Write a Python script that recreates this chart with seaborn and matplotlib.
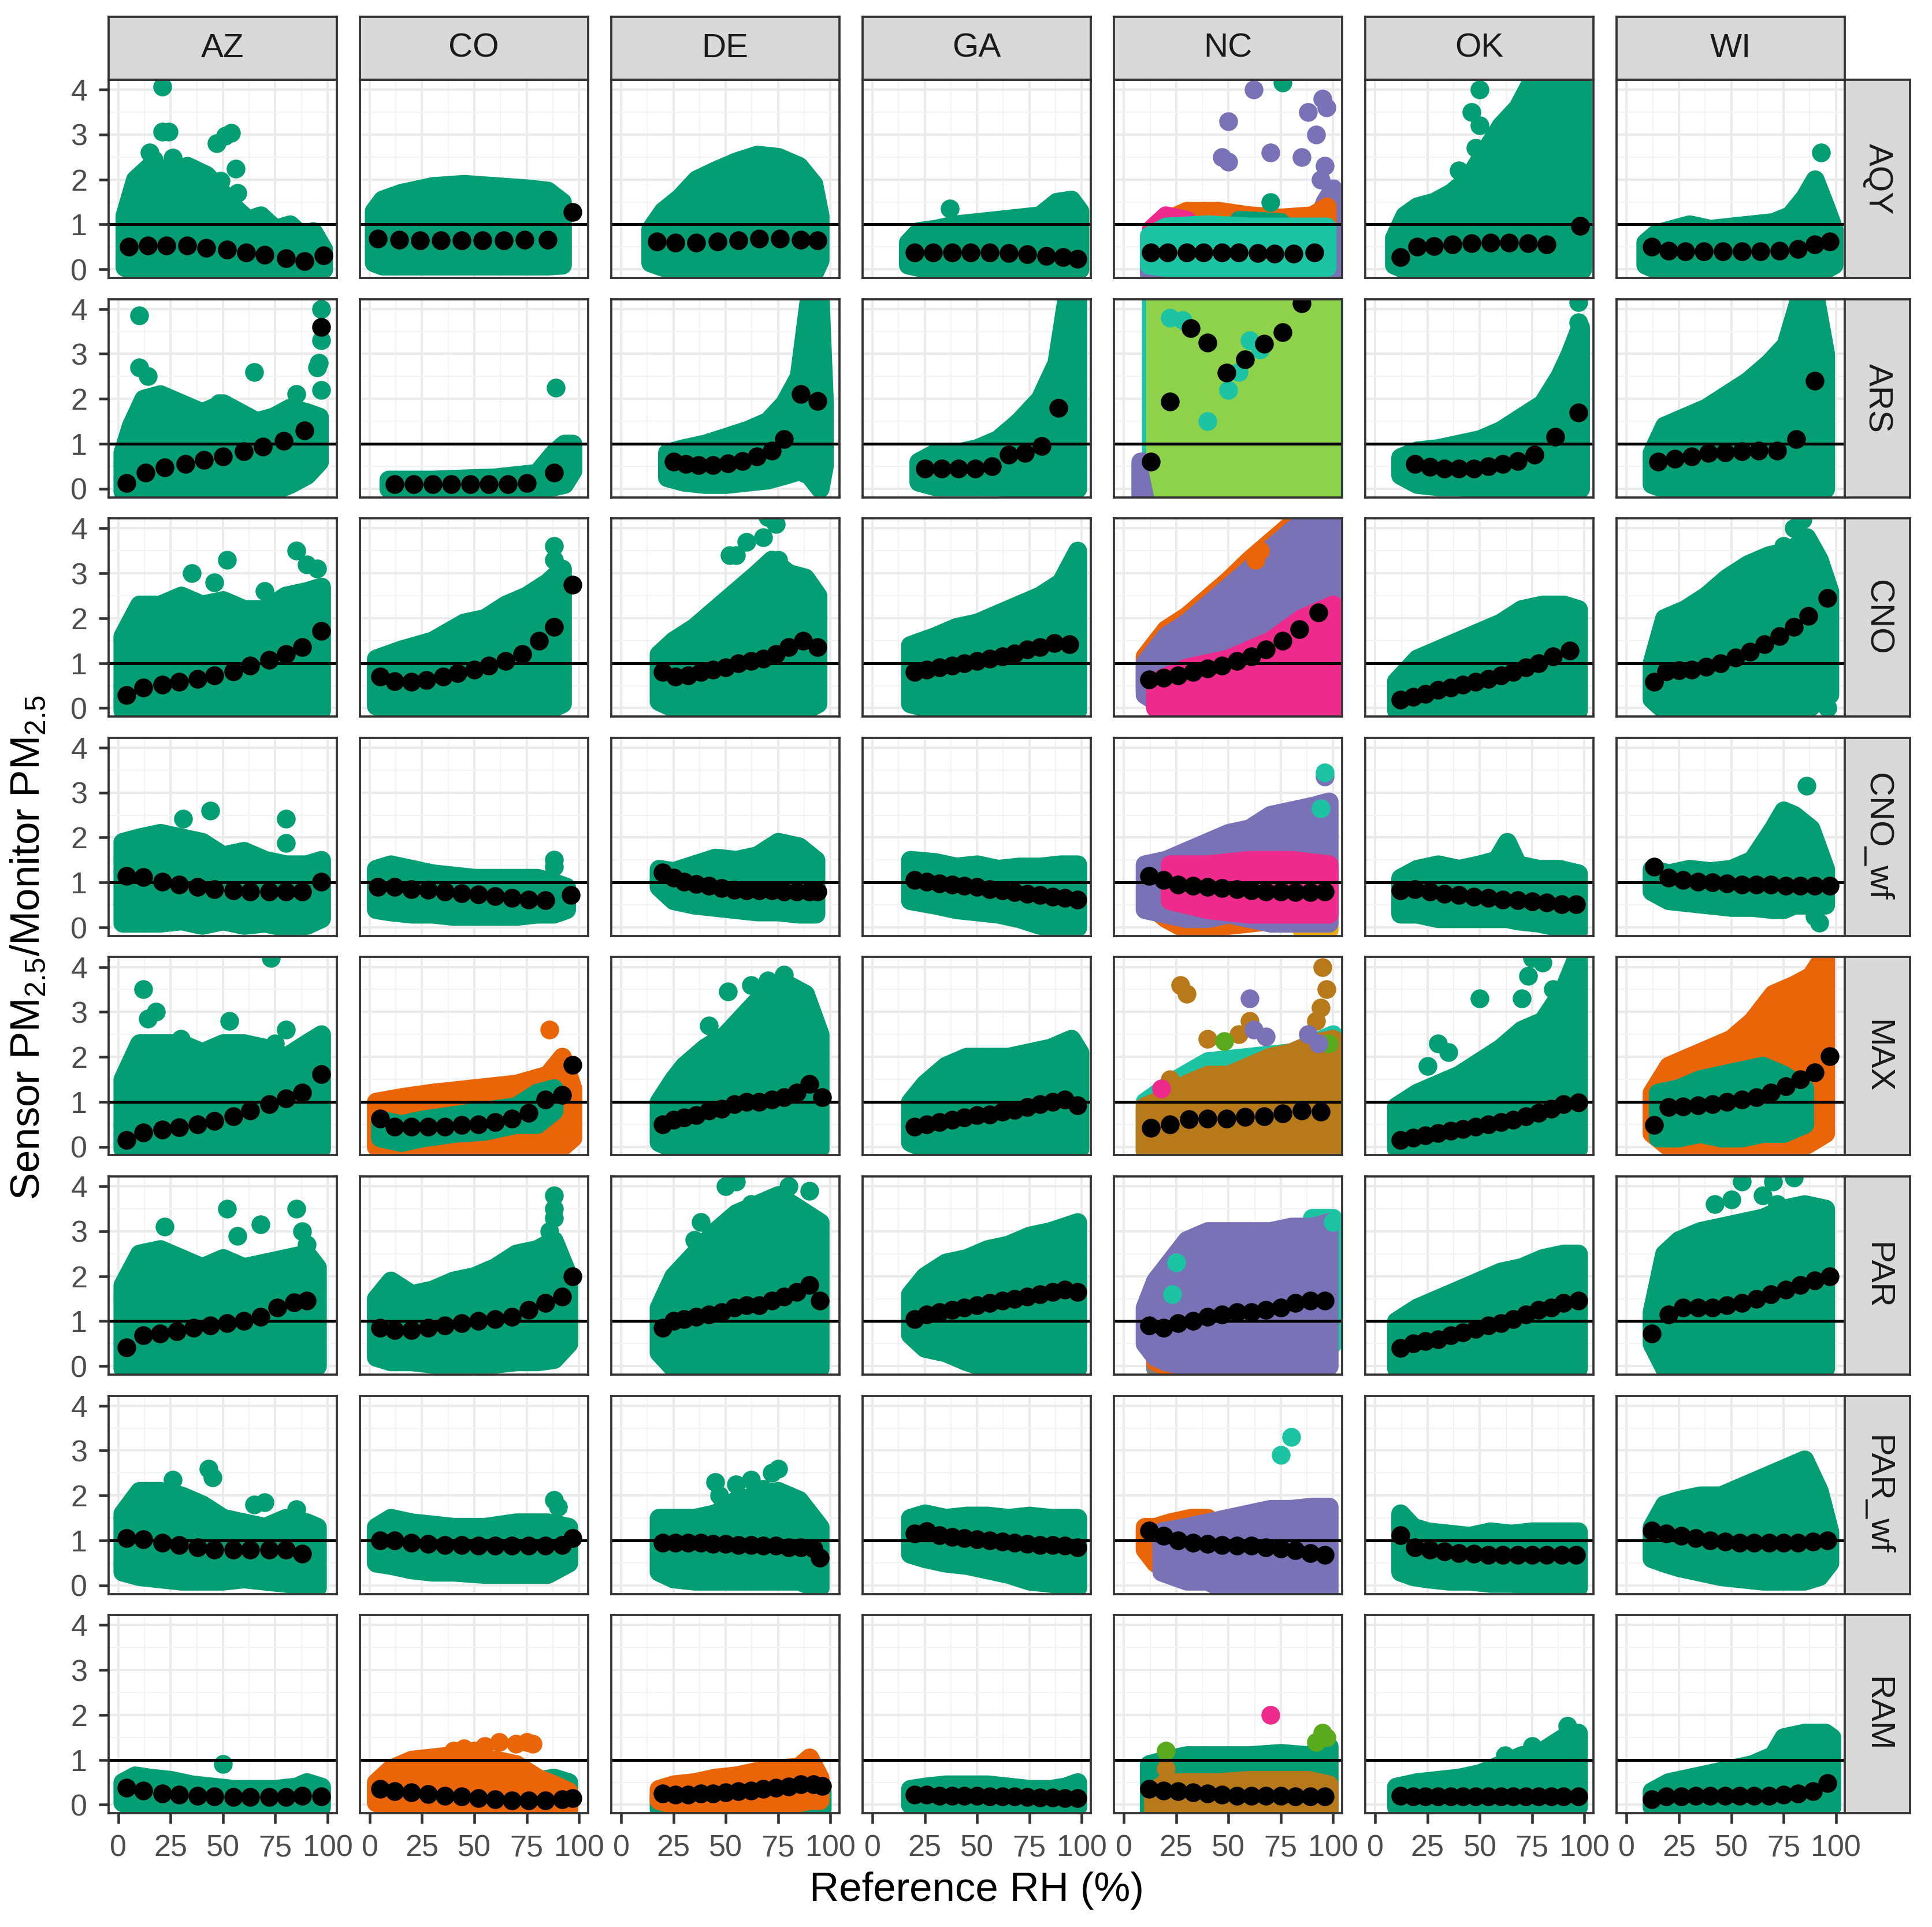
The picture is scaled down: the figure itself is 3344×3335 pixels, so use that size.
import numpy as np
import pandas as pd
import matplotlib
matplotlib.use("Agg")
import matplotlib.pyplot as plt
import seaborn as sns

# ***DATA***

STATES = ["AZ", "CO", "DE", "GA", "NC", "OK", "WI"]
SENSORS = ["AQY", "ARS", "CNO", "CNO_wf", "MAX", "PAR", "PAR_wf", "RAM"]

COLORS = {"green": "#039E74", "orange": "#EA6508", "purple": "#7A72B6", "pink": "#EE2A8C",
          "lime": "#8DD24A", "brown": "#B8791A", "teal": "#1CC4A4", "gold": "#E6AB02",
          "grey": "#7F7F7F", "olive": "#5AAA1E"}

# binned means (black points): RH bin position and mean ratio
AQY_RH = {"AZ": [5, 14, 23, 33, 42, 52, 61, 70, 80, 89, 98],
          "CO": [4, 14, 24, 34, 44, 54, 64, 74, 85, 97],
          "DE": [17, 26, 36, 46, 56, 66, 76, 86, 94],
          "GA": [20, 29, 38, 47, 56, 65, 74, 83, 91, 98],
          "NC": [13, 21, 30, 38, 47, 55, 64, 72, 81, 91],
          "OK": [12, 20, 28, 37, 46, 55, 64, 73, 82, 98],
          "WI": [12, 20, 28, 37, 46, 55, 64, 73, 82, 90, 97]}
AQY_MEAN = {"AZ": [0.51, 0.53, 0.53, 0.53, 0.48, 0.44, 0.38, 0.33, 0.25, 0.18, 0.31],
            "CO": [0.68, 0.66, 0.65, 0.65, 0.65, 0.65, 0.65, 0.66, 0.66, 1.28],
            "DE": [0.62, 0.6, 0.6, 0.62, 0.65, 0.68, 0.68, 0.66, 0.65],
            "GA": [0.37, 0.37, 0.37, 0.37, 0.37, 0.36, 0.34, 0.3, 0.27, 0.24],
            "NC": [0.38, 0.38, 0.38, 0.38, 0.38, 0.37, 0.36, 0.35, 0.35, 0.38],
            "OK": [0.27, 0.5, 0.52, 0.55, 0.58, 0.6, 0.6, 0.58, 0.55, 0.97],
            "WI": [0.5, 0.42, 0.4, 0.4, 0.4, 0.4, 0.4, 0.42, 0.45, 0.55, 0.62]}
# green point cloud outline: (RH, low, high)
AQY_CLOUD = {"AZ": [(3, 0.05, 1.2), (8, -0.05, 2.0), (15, -0.05, 2.3), (25, -0.05, 2.2), (33, -0.05, 2.3),
                    (42, -0.05, 2.1), (48, -0.05, 1.8), (55, -0.05, 1.4), (62, -0.05, 1.1), (68, -0.05, 1.2),
                    (75, -0.05, 0.9), (82, -0.05, 1.0), (88, -0.05, 0.75), (93, -0.05, 0.85), (98, 0.0, 0.45)],
             "CO": [(2, 0.15, 1.3), (6, 0.08, 1.55), (15, 0.08, 1.7), (30, 0.08, 1.85), (45, 0.08, 1.9),
                    (60, 0.08, 1.85), (75, 0.08, 1.8), (85, 0.08, 1.75), (92, 0.1, 1.5)],
             "DE": [(14, 0.15, 0.9), (20, 0.05, 1.3), (28, 0.0, 1.6), (36, 0.0, 2.0), (45, 0.0, 2.2), (55, 0.0, 2.4),
                    (65, 0.0, 2.55), (75, 0.0, 2.5), (85, 0.0, 2.3), (92, -0.1, 1.9), (95, 0.2, 1.2)],
             "GA": [(17, 0.1, 0.6), (22, 0.05, 0.85), (30, 0.0, 0.9), (40, 0.0, 1.0), (50, 0.0, 1.05), (60, 0.0, 1.1),
                    (70, 0.0, 1.15), (80, 0.0, 1.2), (88, 0.0, 1.5), (95, 0.0, 1.55), (99, 0.0, 1.3)],
             "NC": None,
             "OK": [(9, 0.1, 0.7), (14, 0.0, 1.2), (20, 0.0, 1.4), (28, 0.0, 1.5), (36, 0.0, 1.7), (44, 0.0, 2.0),
                    (52, 0.0, 2.6), (60, 0.0, 3.2), (68, 0.0, 3.6), (76, 0.0, 4.3), (90, 0.0, 4.3), (99, 0.0, 4.3)],
             "WI": [(9, 0.1, 0.6), (14, 0.0, 0.8), (22, 0.0, 0.9), (30, 0.0, 1.0), (40, 0.0, 0.9), (50, 0.0, 0.95),
                    (60, 0.0, 1.0), (70, 0.0, 1.05), (78, 0.0, 1.2), (85, 0.0, 1.6), (90, 0.0, 2.0), (95, 0.0, 1.4),
                    (99, 0.1, 0.9)]}

ARS_RH = {"AZ": [4, 13, 22, 32, 41, 50, 60, 69, 79, 89, 97],
          "CO": [12, 21, 30, 39, 48, 57, 66, 75, 88],
          "DE": [25, 31, 37, 44, 51, 58, 65, 72, 78, 86, 94],
          "GA": [25, 33, 41, 49, 57, 65, 73, 81, 89],
          "NC": [13, 22, 32, 40, 49, 58, 67, 76, 85],
          "OK": [19, 26, 33, 40, 47, 54, 61, 68, 76, 86, 97],
          "WI": [15, 23, 31, 39, 47, 55, 63, 72, 81, 90]}
ARS_MEAN = {"AZ": [0.13, 0.36, 0.47, 0.55, 0.64, 0.72, 0.83, 0.94, 1.06, 1.3, 3.6],
            "CO": [0.1, 0.1, 0.1, 0.1, 0.1, 0.1, 0.1, 0.12, 0.36],
            "DE": [0.6, 0.55, 0.52, 0.52, 0.56, 0.62, 0.72, 0.85, 1.1, 2.1, 1.95],
            "GA": [0.45, 0.45, 0.45, 0.45, 0.5, 0.75, 0.8, 0.95, 1.8],
            "NC": [0.6, 1.94, 3.57, 3.25, 2.58, 2.88, 3.23, 3.48, 4.12],
            "OK": [0.55, 0.48, 0.45, 0.45, 0.45, 0.5, 0.55, 0.62, 0.75, 1.15, 1.7],
            "WI": [0.6, 0.66, 0.72, 0.79, 0.81, 0.83, 0.85, 0.85, 1.1, 2.4]}
ARS_CLOUD = {"AZ": [(2, -0.05, 0.8), (6, -0.05, 1.4), (12, -0.05, 2.0), (20, -0.05, 2.1), (30, -0.05, 1.9),
                    (40, -0.05, 1.7), (50, -0.05, 1.9), (58, -0.05, 1.7), (66, -0.05, 1.5), (74, -0.05, 1.6),
                    (82, 0.1, 1.8), (90, 0.3, 1.7), (96, 0.6, 1.6)],
             "CO": [(9, 0.0, 0.2), (30, 0.0, 0.2), (60, 0.0, 0.25), (80, 0.0, 0.35), (88, 0.05, 0.8),
                    (93, 0.1, 1.0), (97, 0.4, 1.0)],
             "DE": [(22, 0.25, 0.8), (30, 0.15, 0.9), (40, 0.1, 1.0), (50, 0.1, 1.15), (60, 0.15, 1.3), (70, 0.2, 1.5),
                    (78, 0.3, 1.9), (85, 0.4, 2.5), (90, 0.3, 4.3), (95, 0.0, 4.3), (97, 0.5, 2.0)],
             "GA": [(22, 0.15, 0.6), (30, 0.05, 0.8), (40, 0.05, 0.8), (50, 0.05, 0.9), (60, 0.05, 1.1), (70, 0.0, 1.5),
                    (80, 0.0, 2.0), (88, 0.0, 2.8), (93, 0.0, 4.3), (98, 0.0, 4.3)],
             "NC": None,
             "OK": [(12, 0.3, 0.7), (20, 0.1, 0.85), (30, 0.05, 0.9), (40, 0.05, 1.0), (50, 0.0, 1.1), (60, 0.0, 1.3),
                    (70, 0.0, 1.6), (80, 0.0, 1.9), (88, 0.0, 2.5), (93, 0.0, 3.0), (98, 0.0, 3.6)],
             "WI": [(12, 0.1, 0.8), (18, 0.0, 1.4), (28, 0.0, 1.6), (38, 0.0, 1.8), (48, 0.0, 2.1), (58, 0.0, 2.4),
                    (68, 0.0, 2.8), (76, 0.0, 3.2), (83, 0.0, 4.3), (90, 0.0, 4.3), (95, 0.0, 3.0)]}

CNO_RH = {"AZ": [4, 12, 21, 29, 38, 46, 55, 63, 72, 80, 88, 97],
          "CO": [5, 12, 20, 27, 35, 42, 50, 57, 65, 73, 81, 88, 97],
          "DE": [20, 26, 32, 38, 44, 50, 56, 62, 68, 74, 80, 87, 94],
          "GA": [20, 26, 32, 38, 44, 50, 56, 62, 68, 74, 80, 87, 94],
          "NC": [12, 19, 26, 33, 40, 47, 54, 61, 68, 76, 84, 93],
          "OK": [12, 18, 24, 30, 36, 42, 48, 54, 60, 66, 72, 78, 85, 93],
          "WI": [13, 19, 25, 31, 38, 45, 52, 59, 66, 73, 80, 87, 96]}
CNO_MEAN = {"AZ": [0.29, 0.45, 0.52, 0.58, 0.65, 0.72, 0.82, 0.95, 1.07, 1.2, 1.35, 1.72],
            "CO": [0.7, 0.6, 0.58, 0.62, 0.7, 0.78, 0.86, 0.95, 1.05, 1.2, 1.5, 1.8, 2.75],
            "DE": [0.8, 0.7, 0.72, 0.8, 0.85, 0.9, 1.0, 1.05, 1.1, 1.2, 1.35, 1.5, 1.35],
            "GA": [0.8, 0.85, 0.9, 0.95, 1.0, 1.05, 1.1, 1.15, 1.22, 1.3, 1.35, 1.45, 1.42],
            "NC": [0.63, 0.68, 0.72, 0.8, 0.88, 0.95, 1.05, 1.15, 1.3, 1.5, 1.75, 2.13],
            "OK": [0.18, 0.25, 0.32, 0.4, 0.46, 0.52, 0.58, 0.65, 0.72, 0.8, 0.9, 1.0, 1.15, 1.28],
            "WI": [0.58, 0.82, 0.84, 0.86, 0.92, 1.0, 1.12, 1.25, 1.42, 1.6, 1.8, 2.05, 2.45]}
CNO_CLOUD = {"AZ": [(2, -0.05, 1.6), (10, -0.05, 2.3), (20, -0.05, 2.3), (30, -0.05, 2.5), (40, -0.05, 2.3),
                    (50, -0.05, 2.4), (60, -0.05, 2.2), (70, -0.05, 2.2), (80, -0.05, 2.5), (90, -0.05, 2.6),
                    (97, -0.05, 2.7)],
             "CO": [(3, 0.05, 1.1), (15, -0.05, 1.3), (30, -0.05, 1.5), (45, -0.05, 1.9), (55, -0.05, 2.0),
                    (65, -0.05, 2.3), (75, -0.05, 2.5), (85, -0.05, 2.8), (92, 0.1, 3.1)],
             "DE": [(18, 0.15, 1.2), (25, 0.0, 1.5), (35, -0.05, 1.8), (45, -0.05, 2.2), (55, -0.05, 2.6),
                    (65, -0.05, 3.0), (72, -0.05, 3.3), (80, -0.05, 3.0), (88, -0.05, 2.9), (94, 0.1, 2.5)],
             "GA": [(18, 0.1, 1.4), (30, -0.05, 1.6), (40, -0.05, 1.8), (50, -0.05, 1.9), (60, -0.05, 2.1),
                    (70, -0.05, 2.3), (80, -0.05, 2.5), (90, -0.05, 2.8), (98, -0.05, 3.5)],
             "NC": None,
             "OK": [(10, -0.05, 0.6), (20, -0.05, 1.1), (30, -0.05, 1.3), (40, -0.05, 1.5), (50, -0.05, 1.7),
                    (60, -0.05, 1.9), (70, -0.05, 2.2), (80, -0.05, 2.3), (90, -0.05, 2.3), (97, -0.05, 2.2)],
             "WI": [(12, 0.2, 1.0), (18, -0.05, 2.0), (28, -0.05, 2.2), (38, -0.05, 2.5), (48, -0.05, 2.9),
                    (58, -0.05, 3.2), (68, -0.05, 3.4), (78, -0.05, 3.5), (86, -0.05, 3.8), (92, 0.2, 3.3),
                    (97, 0.3, 2.6)]}

CNOWF_RH = {"AZ": [4, 12, 21, 29, 38, 46, 55, 63, 72, 80, 88, 97],
            "CO": [4, 12, 20, 28, 36, 44, 52, 60, 68, 76, 84, 96],
            "DE": [20, 25, 30, 36, 42, 48, 54, 60, 66, 72, 78, 84, 90, 94],
            "GA": [20, 26, 32, 38, 44, 50, 56, 62, 68, 74, 80, 86, 92, 98],
            "NC": [12, 19, 26, 33, 40, 47, 54, 61, 68, 75, 82, 89, 96],
            "OK": [12, 19, 26, 33, 40, 47, 54, 61, 68, 75, 82, 89, 96],
            "WI": [13, 20, 27, 34, 41, 48, 55, 62, 69, 76, 83, 90, 97]}
CNOWF_MEAN = {"AZ": [1.15, 1.12, 1.02, 0.95, 0.9, 0.85, 0.82, 0.8, 0.8, 0.8, 0.8, 1.02],
              "CO": [0.9, 0.9, 0.85, 0.83, 0.8, 0.76, 0.73, 0.7, 0.66, 0.62, 0.6, 0.72],
              "DE": [1.22, 1.1, 1.02, 0.96, 0.92, 0.87, 0.84, 0.82, 0.82, 0.82, 0.8, 0.8, 0.8, 0.8],
              "GA": [1.05, 1.02, 0.98, 0.95, 0.92, 0.9, 0.85, 0.82, 0.78, 0.75, 0.72, 0.68, 0.65, 0.62],
              "NC": [1.15, 1.05, 0.95, 0.92, 0.9, 0.88, 0.85, 0.82, 0.8, 0.8, 0.78, 0.78, 0.8],
              "OK": [0.82, 0.85, 0.8, 0.75, 0.72, 0.68, 0.65, 0.62, 0.6, 0.58, 0.55, 0.52, 0.52],
              "WI": [1.35, 1.1, 1.05, 1.02, 1.0, 0.98, 0.95, 0.95, 0.95, 0.92, 0.92, 0.92, 0.92]}
CNOWF_CLOUD = {"AZ": [(2, 0.1, 1.9), (10, 0.1, 2.0), (20, 0.1, 2.1), (30, 0.15, 2.0), (40, 0.05, 1.9), (50, 0.15, 1.6),
                      (60, 0.05, 1.7), (70, 0.1, 1.5), (80, 0.0, 1.4), (90, 0.05, 1.4), (97, 0.2, 1.5)],
               "CO": [(3, 0.4, 1.3), (10, 0.35, 1.4), (20, 0.3, 1.3), (30, 0.3, 1.2), (40, 0.25, 1.15), (50, 0.25, 1.1),
                      (60, 0.25, 1.1), (70, 0.25, 1.1), (80, 0.3, 1.1), (88, 0.3, 1.0), (94, 0.4, 0.9)],
               "DE": [(18, 0.9, 1.3), (25, 0.6, 1.25), (35, 0.5, 1.4), (45, 0.45, 1.55), (55, 0.4, 1.5),
                      (65, 0.35, 1.6), (75, 0.35, 1.9), (85, 0.3, 1.8), (93, 0.3, 1.5)],
               "GA": [(18, 0.6, 1.5), (30, 0.5, 1.45), (40, 0.4, 1.35), (50, 0.35, 1.4), (60, 0.3, 1.3),
                      (70, 0.2, 1.35), (80, 0.05, 1.35), (90, 0.0, 1.4), (98, 0.0, 1.4)],
               "NC": None,
               "OK": [(12, 0.3, 1.1), (20, 0.3, 1.3), (30, 0.2, 1.4), (40, 0.2, 1.3), (50, 0.2, 1.4), (58, 0.2, 1.5),
                      (63, 0.2, 1.9), (68, 0.15, 1.4), (78, 0.1, 1.3), (88, 0.0, 1.3), (97, -0.1, 1.2)],
               "WI": [(12, 0.8, 1.3), (20, 0.6, 1.2), (30, 0.55, 1.3), (40, 0.5, 1.25), (50, 0.45, 1.3),
                      (60, 0.45, 1.5), (70, 0.4, 2.2), (75, 0.4, 2.6), (80, 0.5, 2.5), (88, 0.5, 2.2), (95, 0.5, 1.3)]}

MAX_RH = {"AZ": [4, 12, 21, 29, 38, 46, 55, 63, 72, 80, 88, 97],
          "CO": [5, 12, 20, 28, 36, 44, 52, 60, 68, 76, 84, 92, 97],
          "DE": [20, 25, 30, 36, 42, 48, 54, 60, 66, 72, 78, 84, 90, 96],
          "GA": [20, 26, 32, 38, 44, 50, 56, 62, 68, 74, 80, 86, 92, 98],
          "NC": [13, 22, 31, 40, 49, 58, 67, 76, 85, 94],
          "OK": [12, 18, 24, 30, 36, 42, 48, 54, 60, 66, 72, 78, 84, 90, 97],
          "WI": [13, 20, 27, 34, 41, 48, 55, 62, 69, 76, 83, 90, 97]}
MAX_MEAN = {"AZ": [0.15, 0.32, 0.38, 0.43, 0.5, 0.58, 0.68, 0.8, 0.95, 1.08, 1.2, 1.62],
            "CO": [0.62, 0.45, 0.45, 0.45, 0.45, 0.48, 0.5, 0.55, 0.62, 0.75, 1.05, 1.15, 1.82],
            "DE": [0.5, 0.6, 0.65, 0.7, 0.8, 0.85, 0.95, 1.0, 1.0, 1.05, 1.1, 1.2, 1.4, 1.1],
            "GA": [0.45, 0.5, 0.55, 0.6, 0.65, 0.7, 0.72, 0.78, 0.82, 0.88, 0.95, 1.0, 1.05, 0.92],
            "NC": [0.42, 0.5, 0.61, 0.63, 0.63, 0.67, 0.68, 0.74, 0.8, 0.78],
            "OK": [0.15, 0.2, 0.25, 0.3, 0.35, 0.4, 0.45, 0.5, 0.55, 0.6, 0.68, 0.75, 0.85, 0.95, 0.98],
            "WI": [0.48, 0.88, 0.9, 0.92, 0.95, 1.0, 1.05, 1.1, 1.2, 1.35, 1.5, 1.65, 2.02]}
MAX_CLOUD = {"AZ": [(2, -0.05, 1.5), (10, -0.05, 2.3), (20, -0.05, 2.3), (30, -0.05, 2.3), (40, -0.05, 2.1),
                    (50, -0.05, 2.3), (60, -0.05, 2.3), (70, -0.05, 2.2), (80, -0.05, 2.0), (90, -0.05, 2.3),
                    (97, -0.05, 2.5)],
             "CO": [(5, 0.2, 0.6), (15, 0.1, 0.5), (25, 0.2, 0.6), (40, 0.3, 0.7), (55, 0.35, 0.8), (70, 0.5, 0.9),
                    (80, 0.5, 1.2), (88, 0.8, 1.3)],
             "DE": [(18, 0.1, 1.0), (25, -0.05, 1.5), (30, -0.05, 1.8), (40, -0.05, 2.2), (50, -0.05, 2.5),
                    (60, -0.05, 3.0), (70, -0.05, 3.5), (80, -0.05, 3.6), (88, -0.05, 3.4), (95, -0.05, 2.5)],
             "GA": [(18, 0.1, 1.0), (25, -0.05, 1.4), (35, -0.05, 1.8), (45, -0.05, 2.0), (55, -0.05, 2.0),
                    (65, -0.05, 2.0), (75, -0.05, 2.1), (85, -0.05, 2.2), (95, -0.05, 2.4), (99, -0.05, 2.1)],
             "NC": None,
             "OK": [(10, -0.05, 0.9), (20, -0.05, 1.2), (30, -0.05, 1.4), (40, -0.05, 1.6), (50, -0.05, 1.9),
                    (60, -0.05, 2.2), (70, -0.05, 2.6), (80, -0.05, 2.8), (90, -0.05, 3.5), (97, -0.05, 4.3)],
             "WI": [(15, 0.2, 1.2), (25, 0.2, 1.3), (35, 0.3, 1.5), (45, 0.2, 1.6), (55, 0.2, 1.7), (65, 0.3, 1.8),
                    (75, 0.3, 1.6), (85, 0.5, 1.3)]}

PAR_RH = {"AZ": [4, 12, 20, 28, 36, 44, 52, 60, 68, 76, 84, 90],
          "CO": [5, 12, 20, 28, 36, 44, 52, 60, 68, 76, 84, 92, 97],
          "DE": [20, 25, 30, 36, 42, 48, 54, 60, 66, 72, 78, 84, 90, 95],
          "GA": [20, 26, 32, 38, 44, 50, 56, 62, 68, 74, 80, 86, 92, 98],
          "NC": [12, 19, 26, 33, 40, 47, 54, 61, 68, 75, 82, 89, 96],
          "OK": [12, 18, 24, 30, 36, 42, 48, 54, 60, 66, 72, 78, 84, 90, 97],
          "WI": [12, 20, 27, 34, 41, 48, 55, 62, 69, 76, 83, 90, 97]}
PAR_MEAN = {"AZ": [0.42, 0.68, 0.72, 0.78, 0.85, 0.9, 0.95, 1.0, 1.1, 1.3, 1.42, 1.45],
            "CO": [0.85, 0.8, 0.8, 0.85, 0.9, 0.95, 1.0, 1.05, 1.1, 1.25, 1.4, 1.55, 2.0],
            "DE": [0.85, 1.0, 1.05, 1.1, 1.15, 1.2, 1.3, 1.35, 1.35, 1.45, 1.55, 1.65, 1.8, 1.45],
            "GA": [1.05, 1.15, 1.2, 1.25, 1.3, 1.35, 1.4, 1.45, 1.5, 1.55, 1.6, 1.65, 1.7, 1.65],
            "NC": [0.9, 0.85, 0.95, 1.0, 1.1, 1.15, 1.2, 1.2, 1.25, 1.3, 1.4, 1.45, 1.45],
            "OK": [0.4, 0.5, 0.55, 0.6, 0.68, 0.75, 0.82, 0.9, 0.95, 1.05, 1.15, 1.25, 1.3, 1.4, 1.45],
            "WI": [0.72, 1.15, 1.3, 1.3, 1.3, 1.35, 1.4, 1.5, 1.6, 1.7, 1.8, 1.9, 2.0]}
PAR_CLOUD = {"AZ": [(2, -0.05, 1.8), (10, -0.05, 2.5), (20, -0.05, 2.6), (30, -0.05, 2.4), (40, -0.05, 2.2),
                    (50, -0.05, 2.4), (60, -0.05, 2.2), (70, -0.05, 2.3), (80, -0.05, 2.4), (90, -0.05, 2.5),
                    (95, 0.0, 2.2)],
             "CO": [(3, 0.2, 1.5), (10, 0.1, 1.9), (20, 0.1, 1.6), (30, 0.05, 1.7), (40, 0.05, 1.9), (50, 0.05, 2.0),
                    (60, 0.05, 2.2), (70, 0.1, 2.5), (80, 0.1, 2.6), (88, 0.15, 2.8), (95, 0.5, 2.0)],
             "DE": [(18, 0.3, 1.3), (25, -0.05, 2.0), (35, -0.05, 2.5), (45, -0.05, 3.0), (55, -0.05, 3.4),
                    (65, -0.05, 3.6), (75, -0.05, 3.8), (85, -0.05, 3.5), (95, -0.05, 3.2)],
             "GA": [(18, 0.7, 1.6), (25, 0.4, 2.0), (35, 0.3, 2.3), (45, 0.1, 2.4), (55, -0.05, 2.6), (65, -0.05, 2.7),
                    (75, -0.05, 2.9), (85, -0.05, 3.0), (98, -0.05, 3.2)],
             "NC": None,
             "OK": [(10, -0.05, 1.0), (20, -0.05, 1.3), (30, -0.05, 1.5), (40, -0.05, 1.7), (50, -0.05, 1.9),
                    (60, -0.05, 2.1), (70, -0.05, 2.2), (80, -0.05, 2.4), (90, -0.05, 2.5), (97, -0.05, 2.5)],
             "WI": [(12, 0.5, 1.2), (18, -0.05, 2.5), (25, -0.05, 2.8), (35, -0.05, 3.0), (45, -0.05, 3.1),
                    (55, -0.05, 3.2), (65, -0.05, 3.3), (75, -0.05, 3.5), (85, -0.05, 3.6), (95, -0.05, 3.5)]}

PARWF_RH = {"AZ": [4, 12, 21, 29, 38, 46, 55, 63, 72, 80, 88],
            "CO": [5, 12, 20, 28, 36, 44, 52, 60, 68, 76, 84, 92, 97],
            "DE": [20, 26, 32, 38, 44, 50, 56, 62, 68, 74, 80, 86, 92, 95],
            "GA": [20, 26, 32, 38, 44, 50, 56, 62, 68, 74, 80, 86, 92, 98],
            "NC": [12, 19, 26, 33, 40, 47, 54, 61, 68, 75, 82, 89, 96],
            "OK": [12, 19, 26, 33, 40, 47, 54, 61, 68, 75, 82, 89, 96],
            "WI": [12, 19, 26, 33, 40, 47, 54, 61, 68, 75, 82, 89, 96]}
PARWF_MEAN = {"AZ": [1.05, 1.02, 0.95, 0.9, 0.85, 0.8, 0.8, 0.8, 0.8, 0.8, 0.7],
              "CO": [1.0, 1.0, 0.95, 0.92, 0.9, 0.9, 0.88, 0.88, 0.88, 0.88, 0.88, 0.9, 1.05],
              "DE": [0.95, 0.95, 0.95, 0.95, 0.92, 0.92, 0.9, 0.9, 0.88, 0.88, 0.85, 0.85, 0.82, 0.62],
              "GA": [1.15, 1.2, 1.12, 1.08, 1.05, 1.02, 1.0, 0.98, 0.95, 0.92, 0.9, 0.9, 0.88, 0.85],
              "NC": [1.22, 1.1, 1.0, 0.95, 0.92, 0.9, 0.88, 0.88, 0.85, 0.82, 0.78, 0.72, 0.68],
              "OK": [1.12, 0.85, 0.8, 0.75, 0.72, 0.7, 0.68, 0.68, 0.68, 0.68, 0.68, 0.68, 0.68],
              "WI": [1.22, 1.15, 1.1, 1.05, 1.0, 0.98, 0.95, 0.95, 0.95, 0.95, 0.95, 0.98, 1.0]}
PARWF_CLOUD = {"AZ": [(2, 0.3, 1.6), (10, 0.2, 2.1), (20, 0.15, 2.1), (30, 0.1, 2.0), (40, 0.1, 1.8), (50, 0.1, 1.5),
                      (60, 0.15, 1.4), (70, 0.1, 1.3), (80, 0.05, 1.5), (90, 0.0, 1.4), (95, -0.05, 1.3)],
               "CO": [(3, 0.5, 1.3), (10, 0.45, 1.5), (20, 0.35, 1.4), (30, 0.3, 1.35), (40, 0.3, 1.3),
                      (55, 0.25, 1.3), (70, 0.25, 1.4), (85, 0.25, 1.4), (95, 0.5, 1.3)],
               "DE": [(18, 0.3, 1.5), (25, 0.15, 1.5), (35, 0.1, 1.5), (45, 0.1, 1.6), (55, 0.1, 1.9), (65, 0.1, 2.0),
                      (75, 0.1, 2.1), (85, 0.1, 1.9), (90, 0.0, 1.6), (95, -0.05, 1.3)],
               "GA": [(18, 0.7, 1.5), (25, 0.6, 1.6), (35, 0.5, 1.5), (45, 0.45, 1.55), (55, 0.35, 1.55),
                      (65, 0.25, 1.5), (75, 0.1, 1.55), (85, 0.05, 1.5), (92, 0.0, 1.5), (98, -0.05, 1.5)],
               "NC": None,
               "OK": [(12, 0.3, 1.6), (18, 0.2, 1.3), (25, 0.15, 1.2), (35, 0.1, 1.15), (45, 0.1, 1.1),
                      (55, 0.05, 1.2), (65, 0.05, 1.15), (75, 0.0, 1.2), (85, -0.05, 1.2), (97, -0.05, 1.2)],
               "WI": [(12, 0.6, 1.3), (18, 0.5, 1.8), (25, 0.4, 1.9), (35, 0.3, 2.0), (45, 0.2, 2.0), (55, 0.15, 2.2),
                      (65, 0.1, 2.4), (75, 0.1, 2.6), (85, 0.1, 2.8), (92, 0.2, 2.1), (97, 0.5, 1.2)]}

RAM_RH = {"AZ": [4, 12, 21, 29, 38, 46, 55, 63, 72, 80, 88, 97],
          "CO": [5, 12, 20, 28, 36, 44, 52, 60, 68, 76, 84, 92, 97],
          "DE": [20, 26, 32, 38, 44, 50, 56, 62, 68, 74, 80, 86, 92, 96],
          "GA": [20, 26, 32, 38, 44, 50, 56, 62, 68, 74, 80, 86, 92, 98],
          "NC": [12, 19, 26, 33, 40, 47, 54, 61, 68, 75, 82, 89, 96],
          "OK": [12, 18, 24, 30, 36, 42, 48, 54, 60, 66, 72, 78, 84, 90, 97],
          "WI": [12, 19, 26, 33, 40, 47, 54, 61, 68, 75, 82, 89, 96]}
RAM_MEAN = {"AZ": [0.38, 0.32, 0.25, 0.22, 0.2, 0.18, 0.17, 0.17, 0.17, 0.17, 0.2, 0.18],
            "CO": [0.35, 0.3, 0.27, 0.24, 0.2, 0.18, 0.15, 0.12, 0.1, 0.1, 0.1, 0.12, 0.15],
            "DE": [0.25, 0.22, 0.22, 0.25, 0.25, 0.28, 0.3, 0.32, 0.35, 0.38, 0.4, 0.45, 0.45, 0.42],
            "GA": [0.22, 0.22, 0.2, 0.2, 0.2, 0.2, 0.18, 0.18, 0.18, 0.17, 0.16, 0.16, 0.15, 0.15],
            "NC": [0.35, 0.32, 0.3, 0.28, 0.25, 0.22, 0.2, 0.2, 0.2, 0.2, 0.18, 0.18, 0.18],
            "OK": [0.2, 0.18, 0.18, 0.18, 0.18, 0.18, 0.18, 0.18, 0.18, 0.18, 0.18, 0.18, 0.18, 0.18, 0.18],
            "WI": [0.12, 0.18, 0.18, 0.2, 0.2, 0.2, 0.2, 0.2, 0.2, 0.22, 0.25, 0.3, 0.48]}
RAM_CLOUD = {"AZ": [(2, 0.05, 0.5), (8, -0.05, 0.65), (15, -0.05, 0.6), (25, -0.05, 0.55), (35, -0.05, 0.45),
                    (45, -0.05, 0.4), (55, -0.05, 0.35), (65, -0.05, 0.35), (75, -0.05, 0.35), (85, -0.05, 0.4),
                    (90, -0.05, 0.5), (97, -0.05, 0.4)],
             "CO": [(3, 0.1, 0.45), (50, -0.1, 0.3), (88, -0.1, 0.6), (95, -0.05, 0.5)],
             "DE": [(18, -0.1, 0.2), (96, -0.1, 0.3)],
             "GA": [(18, 0.0, 0.35), (25, -0.05, 0.4), (35, -0.05, 0.45), (45, -0.05, 0.45), (55, -0.05, 0.45),
                    (65, -0.05, 0.4), (75, -0.05, 0.35), (85, -0.05, 0.35), (92, -0.05, 0.4), (98, -0.05, 0.5)],
             "NC": [(12, -0.15, 0.9), (20, -0.15, 1.0), (30, -0.15, 1.1), (45, -0.15, 1.1), (60, -0.15, 1.1),
                    (75, -0.15, 1.15), (88, -0.15, 1.1), (98, -0.15, 1.3)],
             "OK": [(10, -0.05, 0.4), (20, -0.05, 0.5), (30, -0.05, 0.55), (40, -0.05, 0.6), (50, -0.05, 0.7),
                    (60, -0.05, 0.9), (70, -0.05, 1.1), (80, -0.05, 1.2), (90, -0.05, 1.5), (97, -0.05, 1.6)],
             "WI": [(12, -0.05, 0.3), (20, -0.05, 0.5), (30, -0.05, 0.6), (40, -0.05, 0.7), (50, -0.05, 0.8),
                    (60, -0.05, 0.9), (70, -0.05, 1.1), (75, -0.05, 1.5), (85, -0.05, 1.6), (95, -0.05, 1.6),
                    (98, -0.05, 1.5)]}

# clouds of other sensor units (other colours): sensor, state, colour, under/over the green cloud, outline
OTHER_CLOUDS = [
    ("AQY", "NC", "purple", "under", [(12, -0.15, 0.5), (40, -0.15, 0.4), (70, -0.15, 0.4), (90, -0.15, 0.7),
                                      (96, -0.15, 1.5), (100, -0.15, 1.8)]),
    ("AQY", "NC", "orange", "under", [(18, 0.5, 1.05), (30, 0.5, 1.3), (45, 0.5, 1.3), (60, 0.5, 1.2),
                                      (75, 0.5, 1.15), (90, 0.5, 1.2), (97, 0.5, 1.4)]),
    ("AQY", "NC", "pink", "under", [(13, 0.4, 0.9), (20, 0.5, 1.2), (30, 0.5, 1.1)]),
    ("AQY", "NC", "green", "under", [(55, 0.5, 1.1), (75, 0.5, 1.05)]),
    ("AQY", "NC", "teal", "over", [(12, 0.1, 0.75), (20, 0.05, 0.95), (40, 0.05, 1.0), (60, 0.05, 0.95),
                                   (80, 0.05, 0.95), (97, 0.05, 0.95)]),
    ("ARS", "NC", "teal", "under", [(13, 0.3, 4.3), (17, -0.2, 4.3), (100, -0.2, 4.3)]),
    ("ARS", "NC", "purple", "under", [(8, -0.2, 0.6), (18, -0.2, 0.6)]),
    ("ARS", "NC", "lime", "over", [(15, 0.7, 4.3), (19, -0.2, 4.3), (99, -0.2, 4.3)]),
    ("CNO", "NC", "orange", "under", [(10, 0.4, 1.15), (20, 0.1, 1.75), (30, 0.0, 2.05), (40, -0.1, 2.45),
                                      (50, -0.1, 2.85), (60, -0.1, 3.3), (70, -0.1, 3.7), (80, -0.1, 4.1),
                                      (100, -0.1, 4.3)]),
    ("CNO", "NC", "gold", "under", [(20, -0.2, 0.05), (98, -0.2, 0.05)]),
    ("CNO", "NC", "purple", "over", [(10, 0.3, 1.0), (20, 0.0, 1.6), (30, -0.1, 1.9), (40, -0.1, 2.3),
                                     (50, -0.1, 2.7), (60, -0.1, 3.1), (70, -0.1, 3.55), (80, -0.1, 3.95),
                                     (90, -0.1, 4.3), (100, -0.1, 4.3)]),
    ("CNO", "NC", "pink", "over", [(15, 0.0, 0.6), (30, -0.15, 0.9), (50, -0.15, 1.1), (70, -0.15, 1.5),
                                   (85, -0.15, 2.0), (100, -0.15, 2.3)]),
    ("CNO_wf", "NC", "orange", "under", [(12, 0.5, 1.3), (20, 0.2, 1.3), (28, 0.0, 1.4), (40, 0.0, 1.5),
                                         (60, 0.1, 1.9), (80, 0.2, 2.2), (92, 0.2, 2.4), (98, 0.3, 1.2)]),
    ("CNO_wf", "NC", "gold", "under", [(85, -0.05, 0.4), (98, -0.05, 0.4)]),
    ("CNO_wf", "NC", "purple", "over", [(10, 0.4, 1.4), (20, 0.3, 1.5), (30, 0.2, 1.7), (40, 0.2, 1.9),
                                        (50, 0.3, 2.1), (60, 0.2, 2.2), (70, 0.1, 2.5), (80, 0.1, 2.6),
                                        (90, 0.1, 2.7), (98, 0.1, 2.8)]),
    ("CNO_wf", "NC", "pink", "over", [(22, 0.6, 1.4), (40, 0.4, 1.4), (60, 0.3, 1.5), (80, 0.3, 1.5),
                                      (98, 0.3, 1.4)]),
    ("MAX", "CO", "orange", "under", [(3, 0.0, 1.0), (15, -0.1, 1.1), (30, -0.1, 1.2), (50, -0.1, 1.3),
                                      (70, -0.1, 1.4), (85, -0.1, 1.6), (92, 0.0, 2.0), (97, 0.2, 1.3)]),
    ("MAX", "NC", "teal", "under", [(10, -0.1, 1.0), (25, -0.1, 1.5), (40, -0.1, 1.9), (60, -0.1, 2.0),
                                    (80, -0.1, 2.1), (100, -0.1, 2.5)]),
    ("MAX", "NC", "brown", "over", [(10, -0.1, 0.9), (20, -0.1, 1.1), (30, -0.1, 1.4), (40, -0.1, 1.6),
                                    (50, -0.1, 1.6), (60, -0.1, 1.8), (70, -0.1, 2.0), (80, -0.1, 2.1),
                                    (90, -0.1, 2.3), (100, -0.1, 2.4)]),
    ("MAX", "WI", "orange", "under", [(12, 0.3, 1.2), (20, 0.0, 1.8), (30, -0.1, 2.0), (40, -0.1, 2.2),
                                      (50, -0.1, 2.4), (60, -0.1, 2.8), (70, -0.1, 3.4), (80, -0.1, 3.6),
                                      (88, 0.1, 3.8), (95, 0.3, 4.3)]),
    ("PAR", "NC", "grey", "under", [(15, -0.05, 0.6), (40, -0.15, 0.6)]),
    ("PAR", "NC", "orange", "under", [(15, 0.1, 1.0), (25, -0.1, 1.0), (35, -0.1, 0.9)]),
    ("PAR", "NC", "teal", "under", [(90, 0.5, 3.3), (100, 0.5, 3.3)]),
    ("PAR", "NC", "purple", "over", [(10, 0.5, 1.3), (15, 0.2, 1.9), (20, 0.1, 2.2), (30, 0.0, 2.8),
                                     (40, -0.15, 3.0), (50, -0.15, 3.0), (60, -0.15, 3.0), (70, -0.15, 3.0),
                                     (80, -0.15, 3.1), (90, -0.15, 3.1), (98, 0.0, 3.2)]),
    ("PAR_wf", "NC", "orange", "under", [(10, 0.8, 1.3), (15, 0.5, 1.3), (22, 0.3, 1.4), (32, 0.3, 1.5),
                                         (40, 0.4, 1.5)]),
    ("PAR_wf", "NC", "purple", "over", [(18, 0.3, 1.2), (30, 0.1, 1.3), (40, 0.1, 1.4), (50, -0.15, 1.5),
                                        (60, -0.15, 1.6), (70, -0.15, 1.7), (80, -0.15, 1.7), (90, -0.15, 1.75),
                                        (98, -0.15, 1.75)]),
    ("RAM", "CO", "orange", "over", [(3, 0.05, 0.5), (10, -0.05, 0.8), (20, -0.15, 1.0), (30, -0.15, 1.05),
                                     (40, -0.15, 1.1), (50, -0.15, 1.0), (60, -0.15, 1.0), (70, -0.15, 0.9),
                                     (80, -0.15, 0.6), (88, -0.15, 0.45), (95, -0.15, 0.3)]),
    ("RAM", "DE", "orange", "over", [(18, 0.1, 0.35), (25, 0.0, 0.45), (35, 0.0, 0.5), (45, 0.0, 0.6),
                                     (55, 0.0, 0.65), (65, 0.05, 0.75), (75, 0.05, 0.8), (85, 0.05, 0.85),
                                     (90, 0.1, 1.05), (95, 0.1, 0.6)]),
    ("RAM", "NC", "brown", "over", [(14, -0.15, 0.3), (20, -0.15, 0.5), (30, -0.15, 0.5), (45, -0.15, 0.5),
                                    (60, -0.15, 0.55), (75, -0.15, 0.55), (88, -0.15, 0.55), (98, -0.15, 0.45)]),
]

# single stray points outside the clouds: sensor, state, colour, (RH, ratio) pairs
OUTLIERS = [
    ("AQY", "AZ", "green", [(21, 4.07), (21, 3.06), (24, 3.06), (15, 2.6), (17, 2.44), (26, 2.48), (47, 2.8),
                            (51, 2.97), (54, 3.04), (56, 2.24), (49, 1.97), (57, 1.7), (38, 2.1)]),
    ("AQY", "GA", "green", [(37, 1.35)]),
    ("AQY", "NC", "purple", [(62, 4.0), (50, 3.3), (47, 2.5), (50, 2.4), (70, 2.6), (85, 2.5), (88, 3.5),
                             (95, 3.8), (97, 3.6), (92, 3.0), (94, 2.0), (96, 2.3)]),
    ("AQY", "NC", "green", [(76, 4.15), (70, 1.5)]),
    ("AQY", "OK", "green", [(40, 2.2), (48, 2.7), (50, 3.2), (46, 3.5), (50, 4.0)]),
    ("AQY", "WI", "green", [(93, 2.6)]),
    ("ARS", "AZ", "green", [(10, 3.85), (10, 2.7), (14, 2.5), (48, 1.9), (65, 2.6), (85, 2.1), (97, 4.0),
                            (97, 3.3), (96, 2.8), (95, 2.7), (97, 2.2)]),
    ("ARS", "CO", "green", [(89, 2.25)]),
    ("ARS", "NC", "teal", [(22, 3.8), (28, 3.75), (50, 2.2), (55, 2.6), (60, 3.3), (65, 3.1), (40, 1.5)]),
    ("ARS", "OK", "green", [(97, 3.7), (97, 4.15), (96, 3.2)]),
    ("CNO", "AZ", "green", [(35, 3.0), (52, 3.3), (46, 2.8), (85, 3.5), (90, 3.2), (95, 3.1), (70, 2.6)]),
    ("CNO", "CO", "green", [(88, 3.6), (88, 3.3)]),
    ("CNO", "DE", "green", [(52, 3.4), (55, 3.4), (60, 3.7), (68, 3.8), (75, 3.3), (74, 4.1), (70, 4.25)]),
    ("CNO", "NC", "orange", [(65, 3.5), (63, 3.3)]),
    ("CNO", "WI", "green", [(80, 4.0), (84, 4.2), (75, 3.6), (96, 0.0), (95, 0.2)]),
    ("CNO_wf", "AZ", "green", [(31, 2.42), (44, 2.6), (80, 2.42), (80, 1.88)]),
    ("CNO_wf", "CO", "green", [(88, 1.5), (88, 1.35)]),
    ("CNO_wf", "NC", "purple", [(96, 3.35), (97, 2.5)]),
    ("CNO_wf", "NC", "teal", [(96, 3.45), (94, 2.65)]),
    ("CNO_wf", "WI", "green", [(86, 3.15), (90, 0.25), (92, 0.1)]),
    ("MAX", "AZ", "green", [(12, 3.5), (14, 2.85), (18, 3.0), (30, 2.4), (53, 2.8), (75, 2.3), (80, 2.6), (73, 4.2)]),
    ("MAX", "CO", "orange", [(86, 2.6)]),
    ("MAX", "DE", "green", [(37, 2.08), (42, 2.7), (51, 3.46), (70, 3.7), (78, 3.83), (62, 3.6)]),
    ("MAX", "NC", "brown", [(27, 3.6), (30, 3.4), (22, 1.5), (33, 1.3), (40, 2.4), (55, 2.5), (60, 2.8),
                            (95, 4.0), (97, 3.5), (94, 3.1), (92, 2.8)]),
    ("MAX", "NC", "purple", [(60, 3.3), (62, 2.6), (68, 2.45), (88, 2.5), (93, 2.3)]),
    ("MAX", "NC", "olive", [(48, 2.35), (98, 2.3)]),
    ("MAX", "NC", "pink", [(18, 1.3)]),
    ("MAX", "OK", "green", [(25, 1.8), (30, 2.3), (35, 2.1), (50, 3.3), (70, 3.3), (73, 3.8), (75, 4.2), (80, 4.1),
                            (85, 3.5), (88, 3.0)]),
    ("PAR", "AZ", "green", [(22, 3.1), (52, 3.5), (57, 2.9), (68, 3.15), (85, 3.5), (90, 2.7), (88, 3.0)]),
    ("PAR", "CO", "green", [(88, 3.8), (88, 3.5), (88, 3.3), (86, 3.0)]),
    ("PAR", "DE", "green", [(30, 2.0), (35, 2.8), (38, 3.2), (50, 4.0), (55, 4.1), (62, 3.6), (80, 4.0), (90, 3.9),
                            (75, 3.4)]),
    ("PAR", "NC", "teal", [(25, 2.3), (23, 1.6), (100, 3.2)]),
    ("PAR", "WI", "green", [(42, 3.6), (50, 3.7), (55, 4.1), (65, 3.8), (70, 4.1), (72, 3.6), (80, 4.2)]),
    ("PAR_wf", "AZ", "green", [(26, 2.35), (43, 2.6), (45, 2.4), (65, 1.8), (70, 1.85), (85, 1.7)]),
    ("PAR_wf", "CO", "green", [(88, 1.9), (90, 1.75)]),
    ("PAR_wf", "DE", "green", [(45, 2.3), (47, 2.0), (55, 2.25), (62, 2.35), (72, 2.5), (75, 2.6), (68, 2.15)]),
    ("PAR_wf", "NC", "teal", [(75, 2.9), (80, 3.3)]),
    ("RAM", "AZ", "green", [(50, 0.9)]),
    ("RAM", "CO", "orange", [(40, 1.2), (45, 1.25), (50, 1.2), (55, 1.3), (62, 1.4), (70, 1.35), (75, 1.4),
                             (78, 1.35)]),
    ("RAM", "NC", "olive", [(20, 1.2), (95, 1.6), (97, 1.5), (92, 1.4)]),
    ("RAM", "NC", "pink", [(70, 2.0)]),
    ("RAM", "NC", "brown", [(20, 0.8)]),
    ("RAM", "OK", "green", [(62, 1.1), (75, 1.3), (92, 1.75), (95, 1.6)]),
]

RH = {"AQY": AQY_RH, "ARS": ARS_RH, "CNO": CNO_RH, "CNO_wf": CNOWF_RH,
      "MAX": MAX_RH, "PAR": PAR_RH, "PAR_wf": PARWF_RH, "RAM": RAM_RH}
MEAN = {"AQY": AQY_MEAN, "ARS": ARS_MEAN, "CNO": CNO_MEAN, "CNO_wf": CNOWF_MEAN,
        "MAX": MAX_MEAN, "PAR": PAR_MEAN, "PAR_wf": PARWF_MEAN, "RAM": RAM_MEAN}
CLOUD = {"AQY": AQY_CLOUD, "ARS": ARS_CLOUD, "CNO": CNO_CLOUD, "CNO_wf": CNOWF_CLOUD,
         "MAX": MAX_CLOUD, "PAR": PAR_CLOUD, "PAR_wf": PARWF_CLOUD, "RAM": RAM_CLOUD}

# ***FIGURE***

rows = []
for s in SENSORS:
    for st in STATES:
        for x, y in zip(RH[s][st], MEAN[s][st]):
            rows.append((s, st, x, y))
means = pd.DataFrame(rows, columns=["sensor", "state", "rh", "ratio"])

rows = []
for s, st, col, pts in OUTLIERS:
    for x, y in pts:
        rows.append((s, st, col, x, y))
strays = pd.DataFrame(rows, columns=["sensor", "state", "col", "rh", "ratio"])

sns.set_theme(style="white")
plt.rcParams['font.family'] = ['Liberation Sans', 'DejaVu Sans']
plt.rcParams['mathtext.fontset'] = 'custom'
plt.rcParams['mathtext.rm'] = 'Liberation Sans'
plt.rcParams['mathtext.it'] = 'Liberation Sans:italic'

W, H = 3344, 3335
fig = plt.figure(figsize=(W / 300, H / 300), dpi=300)
PT = 7.8  # point diameter in pt


def box(x0, y0, w, h):
    return [x0 / W, 1 - (y0 + h) / H, w / W, h / H]


def cloud(ax, pts, color, z):
    d = pd.DataFrame(pts, columns=["rh", "lo", "hi"])
    ax.fill_between(d["rh"], d["lo"], d["hi"], facecolor=color, edgecolor=color, linewidth=PT,
                    joinstyle="round", capstyle="round", zorder=z)


for r, s in enumerate(SENSORS):
    for c, st in enumerate(STATES):
        x0 = 187.5 + 435.1 * c
        y0 = 138 + 379.6 * r
        ax = fig.add_axes(box(x0, y0, 395, 343))
        ax.set_facecolor("white")
        ax.set_xlim(-4.8, 104.3)
        ax.set_ylim(-0.19, 4.22)
        ax.set_xticks([0, 25, 50, 75, 100])
        ax.set_xticks([12.5, 37.5, 62.5, 87.5], minor=True)
        ax.set_yticks([0, 1, 2, 3, 4])
        ax.set_yticks([0.5, 1.5, 2.5, 3.5], minor=True)
        ax.grid(which="major", color="#EBEBEB", lw=1.0)
        ax.grid(which="minor", color="#F3F3F3", lw=0.5)
        ax.set_axisbelow(True)

        z = 1.0
        for s2, st2, col, layer, pts in OTHER_CLOUDS:
            if s2 == s and st2 == st and layer == "under":
                z += 0.01
                cloud(ax, pts, COLORS[col], z)
        if CLOUD[s][st] is not None:
            z += 0.01
            cloud(ax, CLOUD[s][st], COLORS["green"], z)
        for s2, st2, col, layer, pts in OTHER_CLOUDS:
            if s2 == s and st2 == st and layer == "over":
                z += 0.01
                cloud(ax, pts, COLORS[col], z)

        sub = strays[(strays.sensor == s) & (strays.state == st)]
        for col, g in sub.groupby("col"):
            sns.scatterplot(data=g, x="rh", y="ratio", ax=ax, color=COLORS[col], s=PT ** 2,
                            linewidth=0, legend=False, zorder=2)

        ax.axhline(1, color="black", lw=1.2, zorder=3)

        sub = means[(means.sensor == s) & (means.state == st)]
        sns.scatterplot(data=sub, x="rh", y="ratio", ax=ax, color="black", s=PT ** 2,
                        linewidth=0, legend=False, zorder=4)

        ax.set_xlabel("")
        ax.set_ylabel("")
        for sp in ax.spines.values():
            sp.set_color("#333333")
            sp.set_linewidth(0.9)
            sp.set_zorder(10)
        ax.tick_params(which="minor", length=0)
        ax.tick_params(which="major", labelsize=12.5, labelcolor="#4D4D4D", color="#333333",
                       width=1.1, length=4.2, pad=4.5)
        if c == 0:
            ax.tick_params(axis="y", left=True, labelleft=True)
        else:
            ax.tick_params(axis="y", left=False, labelleft=False)
        if r == len(SENSORS) - 1:
            ax.tick_params(axis="x", bottom=True, labelbottom=True)
        else:
            ax.tick_params(axis="x", bottom=False, labelbottom=False)

        # facet strips
        if r == 0:
            sx = fig.add_axes(box(x0, 29.3, 395, 108.7))
            sx.set_facecolor("#D9D9D9")
            sx.set_xticks([])
            sx.set_yticks([])
            for sp in sx.spines.values():
                sp.set_color("#333333")
                sp.set_linewidth(0.9)
            sx.text(0.5, 0.5, st, transform=sx.transAxes, ha="center", va="center",
                    fontsize=14, color="#1A1A1A")
        if c == len(STATES) - 1:
            sy = fig.add_axes(box(3193, y0, 113, 343))
            sy.set_facecolor("#D9D9D9")
            sy.set_xticks([])
            sy.set_yticks([])
            for sp in sy.spines.values():
                sp.set_color("#333333")
                sp.set_linewidth(0.9)
            sy.text(0.5, 0.5, s, transform=sy.transAxes, ha="center", va="center",
                    rotation=-90, fontsize=14, color="#1A1A1A")

fig.text(1690 / W, 1 - 3272 / H, "Reference RH (%)", ha="center", va="center", fontsize=17, color="black")
fig.text(50 / W, 1 - 1640 / H, r"Sensor PM$_{2.5}$/Monitor PM$_{2.5}$", ha="center", va="center",
         rotation=90, fontsize=17, color="black")

fig.savefig("out.png", dpi=300, facecolor="white")
